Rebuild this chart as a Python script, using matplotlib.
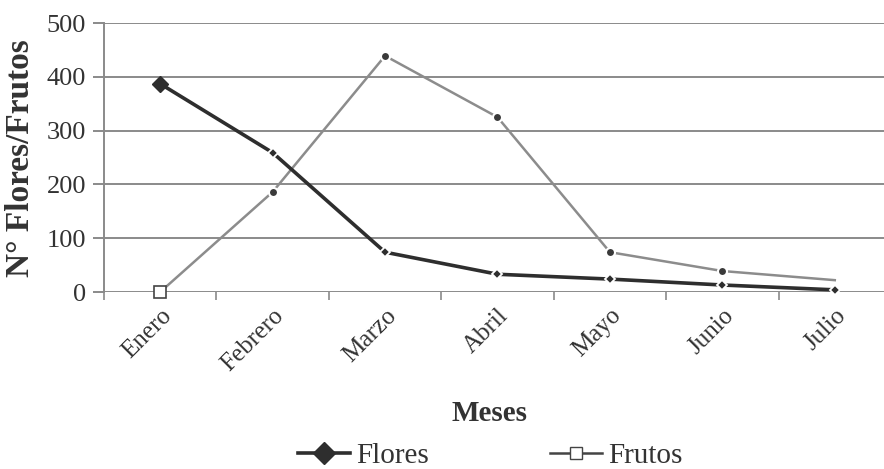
import matplotlib
matplotlib.use("Agg")
import matplotlib.pyplot as plt
from matplotlib.lines import Line2D
import numpy as np

meses = ["Enero", "Febrero", "Marzo", "Abril", "Mayo", "Junio", "Julio"]
flores = [387, 259, 74, 33, 24, 13, 4]
frutos = [0, 186, 439, 325, 74, 39, 22]
yticks = [0, 100, 200, 300, 400, 500]

plt.rcParams["font.family"] = ["Liberation Serif", "DejaVu Serif"]

W, H = 884, 469
fig = plt.figure(figsize=(W / 100, H / 100), dpi=100)
ax = fig.add_axes([104 / W, 1 - 292 / H, (891 - 104) / W, (292 - 23) / H])

x = np.arange(len(meses))
grid_col = "#8a8a8a"
text_col = "#333333"

# Frutos: gray line with small dark dots, open square at start
ax.plot(x, frutos, color="#8c8c8c", lw=1.8, zorder=3)
ax.plot(x[1:-1], frutos[1:-1], "o", ms=6.5, color="#3a3a3a",
        markeredgecolor="white", markeredgewidth=1.5, zorder=4)
ax.plot(x[:1], frutos[:1], "s", ms=9, markerfacecolor="white",
        markeredgecolor="#444444", markeredgewidth=1.2, zorder=5, clip_on=False)

# Flores: dark line with diamond markers
ax.plot(x, flores, color="#2e2e2e", lw=2.6, zorder=5)
ax.plot(x[:1], flores[:1], "D", ms=8, color="#2e2e2e",
        markeredgecolor="#2e2e2e", zorder=6)
ax.plot(x[1:], flores[1:], "D", ms=5.5, color="#2e2e2e",
        markeredgecolor="white", markeredgewidth=1.3, zorder=6, clip_on=False)

ax.set_xlim(-0.5, len(meses) - 0.5)
ax.set_ylim(0, 500)
ax.set_yticks(yticks)
ax.set_yticklabels([str(v) for v in yticks], fontsize=19, color=text_col)
for v in yticks:
    ax.axhline(v, color=grid_col, lw=1.4, zorder=1)

ax.set_xticks(x)
ax.set_xticklabels(meses, fontsize=18, rotation=45, ha="right", va="top",
                   rotation_mode="anchor", color=text_col)
ax.set_xticks(np.arange(len(meses) + 1) - 0.5, minor=True)
ax.tick_params(axis="x", which="major", length=0, pad=9)
ax.tick_params(axis="x", which="minor", length=6, width=1.2, color=grid_col,
               direction="out")
ax.tick_params(axis="y", length=8, width=1.4, color=grid_col, pad=5)

for s in ["top", "right"]:
    ax.spines[s].set_visible(False)
ax.spines["bottom"].set_visible(False)
ax.spines["left"].set_color(grid_col)
ax.spines["left"].set_linewidth(1.4)

fig.text(21 / W, 1 - 158 / H, "N° Flores/Frutos", rotation=90, ha="center",
         va="center", fontsize=24, fontweight="bold", color=text_col)
fig.text(490 / W, 1 - 413 / H, "Meses", ha="center", va="center",
         fontsize=21, fontweight="bold", color=text_col)

handles = [
    Line2D([], [], color="#2e2e2e", lw=2.6, marker="D", ms=11,
           markeredgecolor="#2e2e2e"),
    Line2D([], [], color="#444444", lw=1.8, marker="s", ms=9,
           markerfacecolor="white", markeredgecolor="#444444"),
]
fig.legend(handles, ["Flores", "Frutos"], loc="center", ncol=2,
           bbox_to_anchor=(490 / W, 1 - 456 / H), frameon=False,
           fontsize=21, handlelength=1.8, handletextpad=0.2,
           columnspacing=4.15, labelcolor=text_col)

fig.savefig("out.png", dpi=100)
